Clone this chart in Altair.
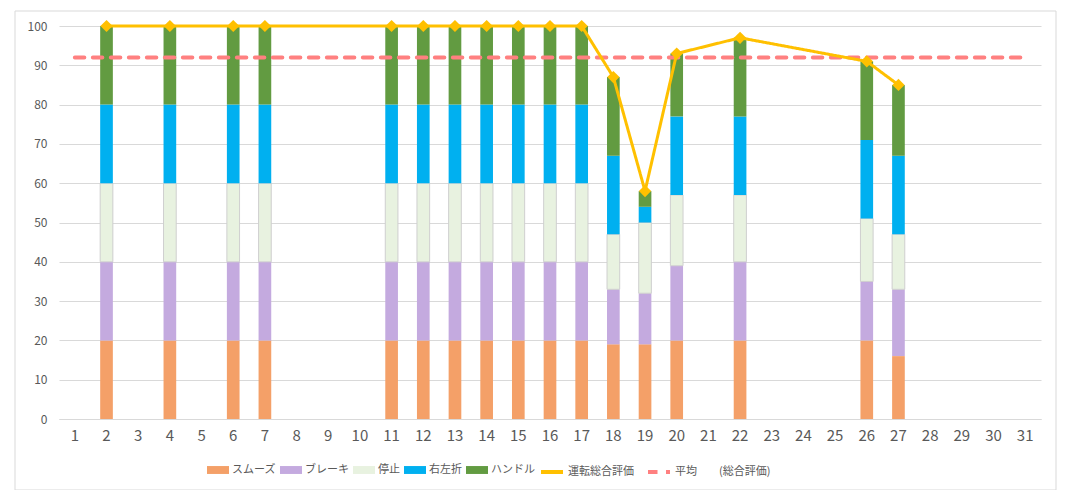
import altair as alt
import pandas as pd

# ---- data ----
days_all = [1, 2, 3, 4, 5, 6, 7, 8, 9, 10, 11, 12, 13, 14, 15, 16, 17, 18, 19, 20,
            21, 22, 23, 24, 25, 26, 27, 28, 29, 30, 31]
days = [2, 4, 6, 7, 11, 12, 13, 14, 15, 16, 17, 18, 19, 20, 22, 26, 27]
smooth = [20, 20, 20, 20, 20, 20, 20, 20, 20, 20, 20, 19, 19, 20, 20, 20, 16]
brake = [20, 20, 20, 20, 20, 20, 20, 20, 20, 20, 20, 14, 13, 19, 20, 15, 17]
stop = [20, 20, 20, 20, 20, 20, 20, 20, 20, 20, 20, 14, 18, 18, 17, 16, 14]
turn = [20, 20, 20, 20, 20, 20, 20, 20, 20, 20, 20, 20, 4, 20, 20, 20, 20]
handle = [20, 20, 20, 20, 20, 20, 20, 20, 20, 20, 20, 20, 4, 16, 20, 20, 18]
total = [100, 100, 100, 100, 100, 100, 100, 100, 100, 100, 100, 87, 58, 93, 97, 91, 85]
average = 92
y_ticks = [0, 10, 20, 30, 40, 50, 60, 70, 80, 90, 100]

series_names = ["スムーズ", "ブレーキ", "停止", "右左折", "ハンドル"]
series_values = [smooth, brake, stop, turn, handle]
bar_colors = ["#F4A068", "#C4AADF", "#E8F2E0", "#00B0F0", "#629B41"]

line_total_name = "運転総合評価"
line_avg_name = "平均　　(総合評価)"

rows = []
for k, (name, vals) in enumerate(zip(series_names, series_values)):
    for d, v in zip(days, vals):
        rows.append({"day": d, "series": name, "value": v, "k": k})
bar_df = pd.DataFrame(rows)

total_df = pd.DataFrame({"day": days, "value": total, "series": line_total_name})
avg_df = pd.DataFrame({"day": days_all, "value": [average] * len(days_all), "series": line_avg_name})

FONT = "Noto Sans CJK JP"
GRID = "#D9D9D9"
TXT = "#595959"

x_axis = alt.Axis(title=None, labelAngle=0, ticks=False, domainColor=GRID,
                  labelFontSize=15, labelColor=TXT, labelPadding=9, grid=False)
x_scale = alt.Scale(domain=days_all, paddingInner=0.6, paddingOuter=0.3)
y_axis = alt.Axis(title=None, values=y_ticks, labelOverlap=False, tickCount=11,
                  domain=False, ticks=False, gridColor=GRID, labelFontSize=12,
                  labelColor=TXT, labelPadding=12)
y_scale = alt.Scale(domain=[0, 100], nice=False)


def xe():
    return alt.X("day:O", scale=x_scale, axis=x_axis)


def ye(stack=None):
    if stack:
        return alt.Y("value:Q", stack=stack, scale=y_scale, axis=y_axis)
    return alt.Y("value:Q", scale=y_scale, axis=y_axis)


bars = alt.Chart(bar_df).mark_bar().encode(
    x=xe(),
    y=ye("zero"),
    fill=alt.Fill("series:N",
                  scale=alt.Scale(domain=series_names, range=bar_colors),
                  legend=alt.Legend(title=None, orient="none", legendX=148, legendY=433,
                                    direction="horizontal", columns=5,
                                    symbolType="M-1,-0.36H1V0.36H-1Z", symbolSize=484,
                                    symbolStrokeWidth=0, labelFontSize=11, labelColor=TXT,
                                    labelOffset=3, columnPadding=4, padding=0)),
    order=alt.Order("k:Q"),
    stroke=alt.condition("datum.series == '停止'", alt.value("#CFCFCF"), alt.value("transparent")),
    strokeWidth=alt.value(1),
)

line_scale_stroke = alt.Scale(domain=[line_total_name, line_avg_name], range=["#FFC000", "#FF8080"])
line_scale_dash = alt.Scale(domain=[line_total_name, line_avg_name], range=[[1, 0], [9.5, 8.5]])
line_legend = alt.Legend(title=None, orient="none", legendX=480, legendY=433,
                         direction="horizontal", columns=2, symbolType="stroke",
                         symbolSize=484, symbolStrokeWidth=4, labelFontSize=11,
                         labelColor=TXT, labelOffset=3, columnPadding=6, padding=0)

avg_line = alt.Chart(avg_df).mark_line(strokeWidth=4, strokeCap="round").encode(
    x=xe(),
    y=ye(),
    stroke=alt.Stroke("series:N", scale=line_scale_stroke, legend=line_legend),
    strokeDash=alt.StrokeDash("series:N", scale=line_scale_dash, legend=line_legend),
)

tot_line = alt.Chart(total_df).mark_line(strokeWidth=3, strokeJoin="round").encode(
    x=xe(),
    y=ye(),
    stroke=alt.Stroke("series:N", scale=line_scale_stroke, legend=line_legend),
    strokeDash=alt.StrokeDash("series:N", scale=line_scale_dash, legend=line_legend),
)

tot_pts = alt.Chart(total_df).mark_point(shape="diamond", filled=True, size=150,
                                         color="#FFC000", opacity=1).encode(
    x=xe(),
    y=ye(),
)

border = alt.Chart(pd.DataFrame({"a": [0]})).mark_rect(
    fill="transparent", stroke=GRID, strokeWidth=1
).encode(x=alt.value(-44), x2=alt.value(997), y=alt.value(-15), y2=alt.value(464))

chart = alt.layer(bars, avg_line, tot_line, tot_pts, border).properties(
    width=982, height=393,
    padding={"left": 51, "top": 18, "right": 18, "bottom": 71},
    autosize=alt.AutoSizeParams(type="none"),
).configure(font=FONT).configure_view(strokeWidth=0).configure_axis(
    labelFont=FONT
).configure_legend(labelFont=FONT)

chart.save("out.html", embed_options={"renderer": "svg", "actions": False})
